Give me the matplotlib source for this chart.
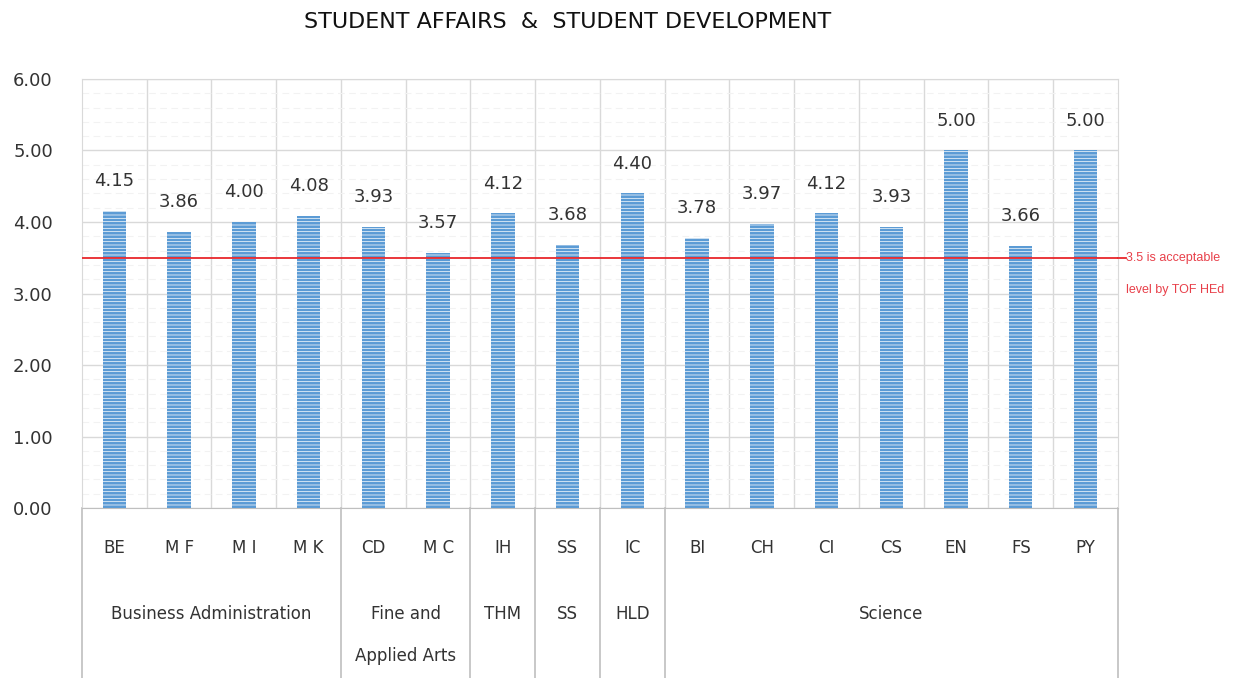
import matplotlib
matplotlib.use("Agg")
import matplotlib.pyplot as plt
import matplotlib.transforms as mtransforms
import numpy as np

plt.rcParams['font.family'] = ['DejaVu Sans']
plt.rcParams['hatch.linewidth'] = 0.5

# ---- data ----
categories = ["BE", "M F", "M I", "M K", "CD", "M C", "IH", "SS", "IC",
              "BI", "CH", "CI", "CS", "EN", "FS", "PY"]
scores = [4.15, 3.86, 4.00, 4.08, 3.93, 3.57, 4.12, 3.68, 4.40,
          3.78, 3.97, 4.12, 3.93, 5.00, 3.66, 5.00]
groups = ["Business Administration", "Fine and\nApplied Arts", "THM", "SS", "HLD", "Science"]
group_sizes = [4, 2, 1, 1, 1, 7]
threshold = 3.5
threshold_label = "3.5 is acceptable\nlevel by TOF HEd"
title = "STUDENT AFFAIRS  &  STUDENT DEVELOPMENT"
yticks = [0, 1, 2, 3, 4, 5, 6]

fig = plt.figure(figsize=(12.48, 6.78), dpi=100)
ax = fig.add_axes([0.0657, 0.2507, 0.8301, 0.6328])

x = np.arange(len(categories))
bars = ax.bar(x, scores, width=0.36, color="#5B9BD5", edgecolor="white",
              linewidth=0, hatch="-----", zorder=3)

ax.set_xlim(-0.5, len(categories) - 0.5)
ax.set_ylim(0, 6)
ax.set_yticks(yticks)
ax.set_yticklabels([f"{v:.2f}" for v in yticks], fontsize=13, color="#333333")
ax.tick_params(axis='y', length=0, pad=21)
ax.set_xticks([])

# grid
ax.set_yticks(np.arange(0, 6.01, 0.2), minor=True)
ax.tick_params(axis='y', which='minor', length=0)
ax.grid(axis='y', which='major', color="#D9D9D9", linewidth=1, zorder=0)
ax.grid(axis='y', which='minor', color="#F2F2F2", linewidth=0.8, linestyle=(0, (6, 4)), zorder=0)
for b in np.arange(0.5, len(categories) - 0.5, 1):
    ax.axvline(b, color="#D9D9D9", linewidth=1, zorder=1)

for s in ax.spines.values():
    s.set_color("#D9D9D9")
ax.spines['bottom'].set_color("#BFBFBF")

# value labels
for xi, v in zip(x, scores):
    ax.annotate(f"{v:.2f}", (xi, v), xytext=(0, 15), textcoords="offset points",
                ha="center", va="bottom", fontsize=13, color="#333333")

# threshold line
red = "#E8262B"
ax.axhline(threshold, color=red, linewidth=1.3, zorder=4)
ax.plot([len(categories) - 0.5, len(categories) - 0.5 + 0.12], [threshold, threshold],
        color=red, linewidth=1.3, clip_on=False, zorder=4)
for i, line in enumerate(threshold_label.split("\n")):
    ax.text(len(categories) - 0.5 + 0.13, threshold, line, ha="left", va="center",
            fontsize=9, color="#E8404A", family="Liberation Sans",
            transform=ax.transData + mtransforms.ScaledTranslation(0, -i * 32 / 100, fig.dpi_scale_trans))

# category table below axis
trans = mtransforms.blended_transform_factory(ax.transData, ax.transAxes)
for xi, c in zip(x, categories):
    ax.text(xi, -0.093, c, transform=trans, ha="center", va="center",
            fontsize=12, color="#333333")
bounds = np.concatenate([[0], np.cumsum(group_sizes)]) - 0.5
for b in bounds:
    ax.plot([b, b], [0, -0.40], transform=trans, color="#BFBFBF",
            linewidth=1.2, clip_on=False)
for g, lo, hi in zip(groups, bounds[:-1], bounds[1:]):
    ax.text((lo + hi) / 2, -0.226, g, transform=trans, ha="center", va="top",
            fontsize=12, color="#333333", linespacing=2.7)

fig.text(0.455, 0.968, title, ha="center", va="center", fontsize=16, color="#111111")

fig.savefig("out.png", dpi=100)
